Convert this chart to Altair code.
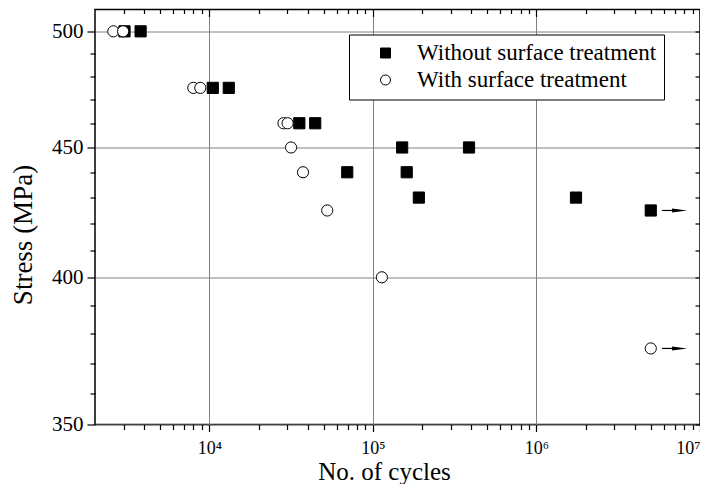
import altair as alt
import pandas as pd

# ---- data ----
without_cycles = [3030, 3800, 10500, 13150, 35500, 44400, 151000, 387000,
                  69700, 161000, 191000, 1745000, 5000000]
without_stress = [500, 500, 475, 475, 460, 460, 450, 450, 440, 440, 430, 430, 425]
with_cycles = [2590, 2970, 7980, 8810, 28400, 30100, 31600, 37400, 52600,
               113500, 5000000]
with_stress = [500, 500, 475, 475, 460, 460, 450, 440, 425, 400, 375]

runout_stress = [425, 375]
arrow_start = [5.85e6, 5.85e6]
arrow_head = [7.5e6, 7.5e6]

series_names = ["Without surface treatment", "With surface treatment"]

x_major = [1e4, 1e5, 1e6, 1e7]
x_minor = [m * d for d in [1e3, 1e4, 1e5, 1e6] for m in range(2, 10) if 2000 < m * d < 1e7]
y_major = [350, 400, 450, 500]
y_minor = [360, 370, 380, 390, 410, 420, 430, 440, 460, 470, 480, 490]

rows = [{"cycles": c, "stress": s, "series": series_names[0]}
        for c, s in zip(without_cycles, without_stress)]
rows += [{"cycles": c, "stress": s, "series": series_names[1]}
         for c, s in zip(with_cycles, with_stress)]
df = pd.DataFrame(rows)
arrows = pd.DataFrame({"x0": arrow_start, "x1": arrow_head, "stress": runout_stress})

FONT = "Liberation Serif"
xscale = alt.Scale(type="log", domain=[2000, 1e7], nice=False)
yscale = alt.Scale(type="log", domain=[350, 510], nice=False)

label_expr = ("'10' + (datum.value == 10000 ? '⁴' : datum.value == 100000 ? '⁵' : "
              "datum.value == 1000000 ? '⁶' : '⁷')")

# Layer 1: points, bottom/left major axes with labels + grid
points = alt.Chart(df).mark_point(
    filled=True, strokeWidth=1, opacity=1, size=125
).encode(
    x=alt.X("cycles:Q", scale=xscale, axis=alt.Axis(
        orient="bottom", values=x_major, labelExpr=label_expr, grid=True,
        gridColor="#808080", gridWidth=1, tickSize=7, tickWidth=1.2,
        tickColor="black", labelPadding=8, labelFontSize=18, labelFont=FONT,
        labelColor="black", domain=False, title="No. of cycles",
        titleFont=FONT, titleFontSize=25, titleFontWeight="normal",
        titleColor="black", titleX=289, titleY=55, titleBaseline="alphabetic",
        titleAlign="center")),
    y=alt.Y("stress:Q", scale=yscale, axis=alt.Axis(
        orient="left", values=y_major, grid=True, gridColor="#808080",
        gridWidth=1, tickSize=8, tickWidth=1.2, tickColor="black",
        labelPadding=4, labelFontSize=21, labelFont=FONT, labelColor="black",
        domain=False, title="Stress (MPa)", titleFont=FONT, titleFontSize=27,
        titleFontWeight="normal", titleColor="black", titleAngle=270,
        titleX=-58, titleY=225, titleBaseline="bottom", titleAlign="center")),
    shape=alt.Shape("series:N", scale=alt.Scale(domain=series_names, range=["square", "circle"]),
                    legend=alt.Legend(title=None)),
    fill=alt.Fill("series:N", scale=alt.Scale(domain=series_names, range=["black", "white"]),
                  legend=alt.Legend(title=None)),
    stroke=alt.Stroke("series:N", scale=alt.Scale(domain=series_names, range=["black", "black"]),
                      legend=alt.Legend(title=None)),
    order=alt.Order("idx:Q"),
).transform_window(idx="row_number()")

# Layer 2: arrow shafts, bottom/left minor ticks
shafts = alt.Chart(arrows).mark_rule(color="black", strokeWidth=1.2).encode(
    x=alt.X("x0:Q", scale=xscale, axis=alt.Axis(
        orient="bottom", values=x_minor, labels=False, grid=False, tickSize=5,
        tickWidth=1.2, tickColor="black", domain=False, title="")),
    x2="x1:Q",
    y=alt.Y("stress:Q", scale=yscale, axis=alt.Axis(
        orient="left", values=y_minor, labels=False, grid=False, tickSize=5,
        tickWidth=1.2, tickColor="black", domain=False, title="")),
)

# Layer 3: arrow heads, top/right major ticks (inward)
heads = alt.Chart(arrows).mark_point(
    shape="M-1,-0.27L1,0L-1,0.27Z", filled=True, color="black", opacity=1, size=225
).encode(
    x=alt.X("x1:Q", scale=xscale, axis=alt.Axis(
        orient="top", values=x_major, labels=False, grid=False, tickSize=7,
        offset=-7, tickWidth=1.2, tickColor="black", domain=False, title="")),
    y=alt.Y("stress:Q", scale=yscale, axis=alt.Axis(
        orient="right", values=y_major, labels=False, grid=False, tickSize=5,
        offset=-5, tickWidth=1.2, tickColor="black", domain=False, title="")),
)

# Layer 4: invisible, top/right minor ticks (inward)
ghost = alt.Chart(df).mark_point(opacity=0).encode(
    x=alt.X("cycles:Q", scale=xscale, axis=alt.Axis(
        orient="top", values=x_minor, labels=False, grid=False, tickSize=4,
        offset=-4, tickWidth=1.2, tickColor="black", domain=False, title="")),
    y=alt.Y("stress:Q", scale=yscale, axis=alt.Axis(
        orient="right", values=y_minor, labels=False, grid=False, tickSize=5,
        offset=-5, tickWidth=1.2, tickColor="black", domain=False, title="")),
)

chart = alt.layer(points, shafts, heads, ghost).resolve_axis(
    x="independent", y="independent"
).properties(
    width=605, height=415,
    autosize=alt.AutoSizeParams(type="none"),
    padding={"left": 87, "top": 1.5, "right": 0, "bottom": 59.5},
).configure(
    font=FONT
).configure_axis(
    labelFont=FONT, titleFont=FONT
).configure_view(
    stroke="black", strokeWidth=1.5
).configure_legend(
    orient="none", legendX=254, legendY=25, strokeColor="black",
    fillColor="white", padding=7, symbolOffset=18, labelOffset=20,
    labelFont=FONT, labelFontSize=23, labelColor="black", symbolSize=100,
    symbolStrokeWidth=1, rowPadding=3, labelLimit=400,
)

chart.save("out.html", embed_options={"renderer": "svg", "actions": False})
